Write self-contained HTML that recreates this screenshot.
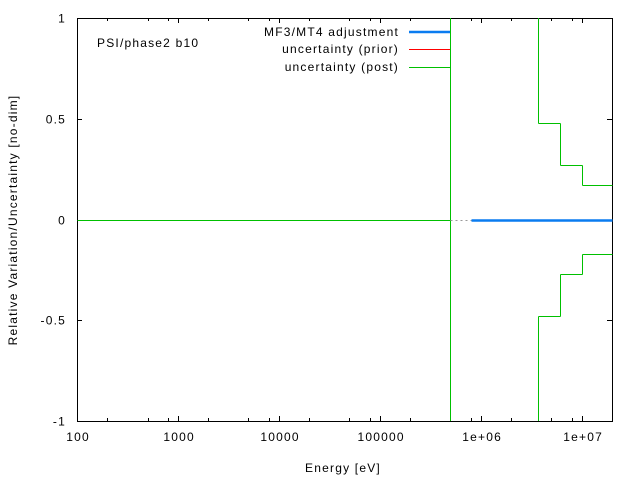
<!DOCTYPE html>
<html><head><meta charset="utf-8"><style>
html,body{margin:0;padding:0;background:#fff;}
svg{display:block;font-family:"Liberation Sans",sans-serif;font-size:12px;}
svg text{letter-spacing:1.2px;}
</style></head><body>
<svg id="chart" width="640" height="480" viewBox="0 0 640 480" xmlns="http://www.w3.org/2000/svg">
<g id="axes"></g>
<g id="series"></g>
<text x="97" y="47">PSI/phase2 b10</text>
<text x="343" y="472" text-anchor="middle">Energy [eV]</text>
<text transform="translate(17,220) rotate(-90)" text-anchor="middle">Relative Variation/Uncertainty [no-dim]</text>
<g>
<text x="399" y="36" text-anchor="end">MF3/MT4 adjustment</text>
<line x1="409" y1="32" x2="450" y2="32" stroke="#0a7cf0" stroke-width="2.5"/>
<text x="399" y="53" text-anchor="end">uncertainty (prior)</text>
<line x1="409" y1="49.5" x2="450" y2="49.5" stroke="#ff0000" stroke-width="1"/>
<text x="399" y="71" text-anchor="end">uncertainty (post)</text>
<line x1="409" y1="67.5" x2="450" y2="67.5" stroke="#00c000" stroke-width="1"/>
</g>
</svg>
<script>
const xTicks = [100, 1000, 10000, 100000, 1e6, 1e7];
const xTickLabels = ["100", "1000", "10000", "100000", "1e+06", "1e+07"];
const yTicks = [-1, -0.5, 0, 0.5, 1];
const yTickLabels = ["-1", "-0.5", "0", "0.5", "1"];
// uncertainty (post) step edges and values
const uncEdges = [100, 5e5, 3.66e6, 6.05e6, 1e7, 2e7];
const uncValues = [0, 2, 0.48, 0.27, 0.17];
// adjustment
const adjX = [8e5, 2e7];
const adjY = [0, 0];
const gapX = [5e5, 8e5];
const minorMult = [2, 5, 8];

const L=77,R=612,T=18,B=421, XMIN=100, XMAX=2e7;
const sx=v=>Math.round(L+(Math.log10(v)-Math.log10(XMIN))/(Math.log10(XMAX)-Math.log10(XMIN))*(R-L))+0.5;
const sy=v=>Math.round(B-(v+1)/2*(B-T))+0.5;
const NS="http://www.w3.org/2000/svg";
const axes=document.getElementById('axes'), ser=document.getElementById('series');
function mk(tag,attrs,parent){const e=document.createElementNS(NS,tag);for(const k in attrs)e.setAttribute(k,attrs[k]);parent.appendChild(e);return e;}

[1,-1].forEach(sign=>{
  let d='';
  for(let i=0;i<uncValues.length;i++){
    const v=sign*uncValues[i];
    const x1=sx(uncEdges[i]),x2=sx(uncEdges[i+1]);
    const inR=Math.abs(v)<=1;
    const y=inR?sy(v):(v>0?T:B);
    if(i>0){const pv=sign*uncValues[i-1];const py=Math.abs(pv)<=1?sy(pv):(pv>0?T:B);d+='M'+x1+','+py+'L'+x1+','+y;}
    if(inR) d+='M'+x1+','+y+'L'+x2+','+y;
  }
  const p=mk('path',{d:d,fill:'none',stroke:'#00c000','stroke-width':1},ser);
  
  
});
const g=mk('line',{x1:sx(gapX[0]),y1:sy(0),x2:sx(gapX[1]),y2:sy(0),stroke:'#999','stroke-width':1,'stroke-dasharray':'2,3'},ser);


const a=mk('line',{x1:sx(adjX[0]),y1:sy(adjY[0]),x2:sx(adjX[1]),y2:sy(adjY[1]),stroke:'#0a7cf0','stroke-width':2.5},ser);



const f=mk('rect',{x:L+0.5,y:T+0.5,width:R-L,height:B-T,fill:'none',stroke:'#000','stroke-width':1},axes);


xTicks.forEach((v,i)=>{
  const x=sx(v);
  mk('line',{x1:x,y1:B,x2:x,y2:B-5,stroke:'#000'},axes);
  mk('line',{x1:x,y1:T,x2:x,y2:T+5,stroke:'#000'},axes);
  const t=mk('text',{x:x+0.6,y:B+20,'text-anchor':'middle'},axes);
  t.textContent=xTickLabels[i];
  
  
  minorMult.forEach(m=>{const mv=v*m;if(mv>XMAX)return;const mx=sx(mv);
    mk('line',{x1:mx,y1:B,x2:mx,y2:B-3,stroke:'#000'},axes);
    mk('line',{x1:mx,y1:T,x2:mx,y2:T+3,stroke:'#000'},axes);});
});
yTicks.forEach((v,i)=>{
  const y=sy(v);
  mk('line',{x1:L,y1:y,x2:L+5,y2:y,stroke:'#000'},axes);
  mk('line',{x1:R,y1:y,x2:R-5,y2:y,stroke:'#000'},axes);
  const t=mk('text',{x:L-11,y:y+4,'text-anchor':'end'},axes);
  t.textContent=yTickLabels[i];
  
  
});
</script>
</body></html>
